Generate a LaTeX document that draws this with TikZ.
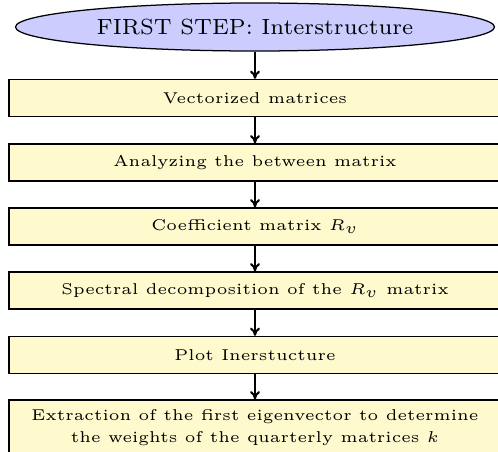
\documentclass[tikz,border=0pt]{standalone}
\usetikzlibrary{shapes.geometric,arrows.meta}
\definecolor{startfill}{RGB}{204,204,255}
\definecolor{stepfill}{RGB}{255,250,205}
\newcommand{\pu}{0.319pt}
\begin{document}
\begin{tikzpicture}[x=\pu,y=-\pu,
  startnode/.style={ellipse,draw,fill=startfill,line width=0.4pt,
    minimum width=479*\pu,minimum height=48*\pu,inner sep=0pt,font=\scriptsize},
  stepbox/.style={rectangle,draw,fill=stepfill,line width=0.45pt,
    minimum width=492*\pu,minimum height=37*\pu,inner sep=0pt,font=\tiny,align=center},
  flow/.style={-{To[length=2.6pt,width=3.2pt]},line width=0.65pt}]
  \useasboundingbox (0,0) rectangle (498,452);
  \node[startnode] (start) at (255,27) {FIRST STEP: Interstructure};
  \node[stepbox] (s1) at (255,98) {Vectorized matrices};
  \node[stepbox] (s2) at (255,162.5) {Analyzing the between matrix};
  \node[stepbox] (s3) at (255,226.5) {Coefficient matrix $R_v$};
  \node[stepbox] (s4) at (255,290.5) {Spectral decomposition of the $R_v$ matrix};
  \node[stepbox] (s5) at (255,355) {Plot Inerstucture};
  \node[stepbox,minimum height=55*\pu] (s6) at (255,427.5)
    {Extraction of the first eigenvector to determine\\[0.9pt]the weights of the quarterly matrices $k$};
  \draw[flow] (start.south) -- (s1.north);
  \draw[flow] (s1) -- (s2);
  \draw[flow] (s2) -- (s3);
  \draw[flow] (s3) -- (s4);
  \draw[flow] (s4) -- (s5);
  \draw[flow] (s5) -- (s6);
\end{tikzpicture}
\end{document}
